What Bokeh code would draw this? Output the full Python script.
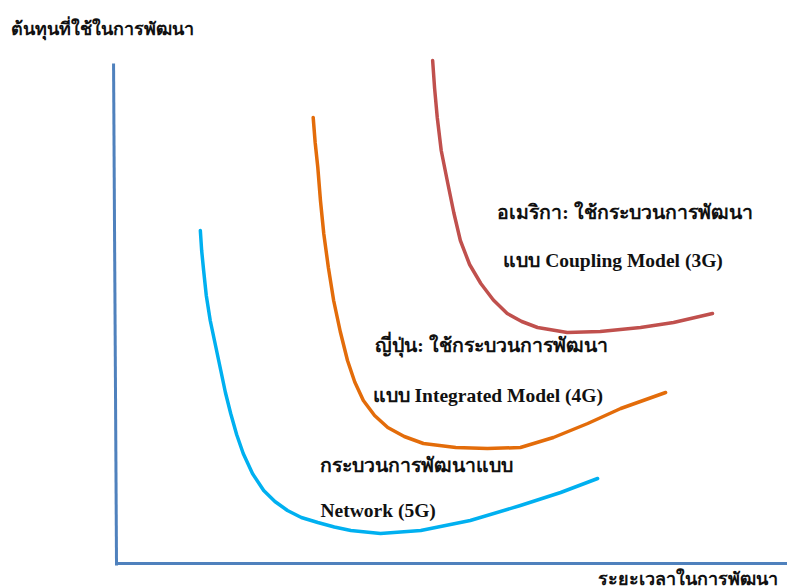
from bokeh.plotting import figure
from bokeh.models import Range1d
from bokeh.core.properties import value
from bokeh.embed import file_html
from bokeh.resources import INLINE

# development time (t) vs development cost (c), arbitrary units
t_5g = [12.7, 12.9, 13.2, 13.6, 14.2, 15.0, 15.8, 16.5, 17.3, 18.2, 19.2, 20.6, 22.3, 24.0, 25.9, 28.0, 30.5, 33.0, 35.5, 40.0, 46.1, 53.6, 61.2, 67.3, 72.9]
c_5g = [66.6, 62.6, 58.6, 53.6, 48.6, 43.6, 38.6, 34.2, 30.0, 25.8, 22.0, 18.0, 14.6, 12.4, 10.6, 9.2, 8.2, 7.3, 6.6, 6.0, 6.6, 8.6, 11.6, 14.2, 17.0]

t_4g = [29.8, 30.1, 30.5, 30.9, 31.4, 32.1, 32.9, 33.9, 35.0, 36.1, 37.4, 39.1, 41.1, 43.6, 46.5, 51.4, 56.2, 61.2, 66.2, 71.4, 76.4, 83.2]
c_4g = [89.2, 84.2, 79.2, 72.6, 66.0, 59.2, 52.6, 46.4, 40.6, 36.3, 32.6, 29.6, 27.2, 25.4, 24.0, 23.2, 23.0, 23.2, 25.2, 28.0, 31.0, 34.2]

t_3g = [47.9, 48.2, 48.6, 49.2, 50.2, 51.1, 52.1, 53.5, 55.2, 57.1, 59.2, 61.4, 63.8, 68.3, 73.3, 79.4, 84.4, 90.3]
c_3g = [100.6, 95.0, 89.2, 82.6, 76.0, 70.2, 64.6, 59.8, 56.0, 52.7, 50.0, 48.4, 47.2, 46.2, 46.4, 47.2, 48.2, 50.0]

y_title = "ต้นทุนที่ใช้ในการพัฒนา"
x_title = "ระยะเวลาในการพัฒนา"
label_texts = [
    "อเมริกา: ใช้กระบวนการพัฒนา",
    "แบบ Coupling Model (3G)",
    "ญี่ปุ่น: ใช้กระบวนการพัฒนา",
    "แบบ Integrated Model (4G)",
    "กระบวนการพัฒนาแบบ",
    "Network (5G)",
]
label_t = [57.7, 58.6, 39.2, 38.8, 30.9, 30.9]
label_c = [70.2, 60.6, 43.6, 33.6, 19.6, 10.6]

p = figure(width=787, height=588, output_backend="svg", toolbar_location=None,
           x_range=Range1d(-17.58, 101.67), y_range=Range1d(-5.0, 112.6),
           min_border=0, min_border_left=0, min_border_right=0,
           min_border_top=0, min_border_bottom=0)
p.axis.visible = False
p.grid.visible = False
p.outline_line_color = None
p.background_fill_color = "white"
p.border_fill_color = "white"

axis_col = "#4F81BD"
p.line([-0.45, 0.0], [100.0, -0.4], line_color=axis_col, line_width=3)
p.line([0.0, 104.0], [0.0, 0.0], line_color=axis_col, line_width=3)

p.line(t_5g, c_5g, line_color="#00B0F0", line_width=3.5, line_join="round", line_cap="round")
p.line(t_4g, c_4g, line_color="#E36C0A", line_width=3.5, line_join="round", line_cap="round")
p.line(t_3g, c_3g, line_color="#C0504D", line_width=3.5, line_join="round", line_cap="round")

font = value("Liberation Serif")
p.text(x=label_t, y=label_c, text=label_texts, text_font=font, text_font_style="bold",
       text_font_size="19.5px", text_align="left", text_baseline="middle", text_color="#111111")
p.text(x=[-16.06], y=[107.0], text=[y_title], text_font=font, text_font_style="bold",
       text_font_size="18px", text_align="left", text_baseline="middle", text_color="#111111")
p.text(x=[73.0], y=[-3.0], text=[x_title], text_font=font, text_font_style="bold",
       text_font_size="18px", text_align="left", text_baseline="middle", text_color="#111111")

open("out.html", "w").write(file_html(p, INLINE))
